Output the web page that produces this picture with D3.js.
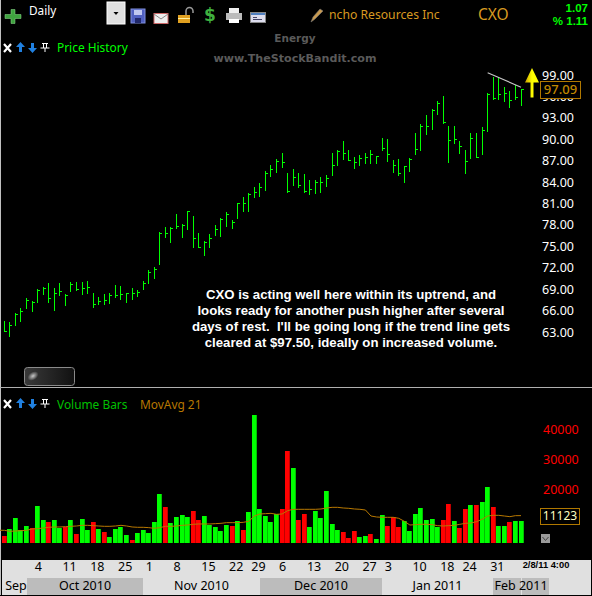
<!DOCTYPE html>
<html><head><meta charset="utf-8">
<script src="https://cdn.jsdelivr.net/npm/d3@7/dist/d3.min.js"></script>
<style>
html,body{margin:0;padding:0;background:#000;overflow:hidden}
svg{display:block}
text{font-family:"Noto Sans","DejaVu Sans",sans-serif}
</style></head><body><div id="c"></div>
<script>
const highs=[64.54,64.36,65.62,66.32,67.76,67.30,69.02,69.26,69.86,69.12,69.86,68.32,69.96,70.00,70.00,70.14,68.46,67.90,68.32,68.46,69.58,69.44,68.46,69.16,68.88,70.14,71.68,72.10,77.01,77.71,77.71,79.53,78.09,79.95,79.25,76.87,75.75,76.73,77.99,78.97,79.81,78.69,81.07,81.92,82.48,83.32,83.88,85.56,86.40,87.24,88.08,85.28,85.84,85.28,85.14,84.30,84.25,84.72,85.00,88.12,88.49,89.75,88.49,87.51,87.79,88.03,88.49,87.65,90.17,90.03,87.09,87.23,86.25,87.37,90.87,92.14,93.40,94.24,95.36,96.06,91.86,91.86,89.75,88.49,90.87,90.87,91.72,96.48,98.72,98.58,97.32,96.76,97.60,97.04];
const lows=[63.00,62.30,63.84,64.40,66.22,65.80,67.06,68.18,67.06,65.94,68.04,66.64,68.60,68.74,68.18,68.32,66.36,66.78,66.78,66.92,67.76,67.48,67.06,67.48,67.90,68.88,69.72,70.42,72.38,76.17,75.47,77.43,76.17,77.29,74.77,74.77,73.65,74.77,76.45,76.31,77.71,77.43,78.83,79.81,79.81,81.78,81.92,82.76,84.72,85.28,85.98,82.48,83.46,83.18,82.48,82.20,82.34,82.48,83.32,84.85,86.25,87.09,86.95,85.83,86.25,86.53,86.53,86.53,88.35,86.81,85.27,84.85,83.87,85.41,87.79,88.35,90.59,91.30,93.40,92.14,86.67,89.33,87.93,85.13,87.23,87.37,87.79,91.02,95.50,95.50,95.22,94.38,95.50,94.66];
const closes=[63.09,64.03,65.52,65.99,67.48,67.16,68.88,69.12,67.76,68.42,68.70,68.18,69.72,69.02,69.16,69.30,66.88,67.34,67.48,68.18,68.18,68.32,68.42,68.42,68.60,69.86,71.40,71.82,76.82,76.87,77.61,77.85,77.95,79.91,76.13,74.91,75.57,76.13,77.39,78.83,79.49,78.37,81.03,81.03,82.34,82.57,83.27,85.23,85.79,86.91,86.77,82.71,84.67,83.55,82.71,82.99,84.02,84.02,84.53,86.35,88.40,88.07,87.09,86.81,87.37,87.51,87.93,87.61,88.73,87.93,86.35,85.27,86.21,87.28,88.63,91.86,91.90,94.10,95.08,92.42,89.89,90.03,89.05,86.95,90.17,87.51,91.30,96.34,95.78,96.34,96.43,95.50,95.92,97.09];
const volumes=[4340,6670,10330,6330,7670,7000,14330,9670,9000,9670,7000,7330,9670,5000,10000,6330,9000,6670,5670,4000,6670,7330,4670,3000,5330,6330,5330,9000,18330,14000,8670,10670,11330,10670,12670,9670,11000,8000,7330,6000,8000,7670,9330,6330,12330,44670,13330,11000,9000,11670,13330,32670,27000,9670,11670,7330,12670,10330,19330,8330,6330,5670,3670,6000,4000,4330,5000,3330,11330,7670,10560,7330,9330,6000,11670,13670,9670,10000,7330,9670,15000,9330,7000,13330,14670,14670,15670,20670,14000,7670,7670,9000,9330,9330];
const downBars=[0,5,8,11,13,16,18,23,29,34,35,41,43,50,51,53,54,61,62,63,66,69,70,71,79,80,82,83,85,88,91];
const movAvg=[6230,5890,6000,6110,6230,6670,6780,7000,7230,7340,7340,7450,7560,7670,7890,7890,7780,7670,7560,7560,7670,7890,7670,7340,7230,7230,7120,6890,7120,7560,7560,7670,7890,8000,8230,8340,8340,8340,8450,8560,8780,8780,8780,8890,9230,11000,11670,11780,11890,11560,11670,12780,13230,13230,13230,13230,13230,13340,13670,13890,13890,13670,13560,13340,13230,13000,11000,10670,10560,10560,10560,10230,9230,8000,8110,8230,8230,8110,7780,7670,7780,7890,8230,8560,8670,9110,9890,11000,11220,11220,11000,10780,11110,11123];
const priceTicks=[99,96,93,90,87,84,81,78,75,72,69,66,63];
const volumeTicks=[20000,30000,40000];
const dayTickIndex=[6,11,16,21,26,31,36,41,45,50,55,60,65,69,74,79,83,88];
const dayTickLabels=["4","11","18","25","1","8","15","22","29","6","13","20","27","3","10","18","24","31"];
const monthNames=["Sep","Oct 2010","Nov 2010","Dec 2010","Jan 2011","Feb 2011"];
const monthStartIndex=[-1,4,25,46,68,88,98];
const noteLines=["CXO is acting well here within its uptrend, and","looks ready for another push higher after several","days of rest.  I'll be going long if the trend line gets","cleared at $97.50, ideally on increased volume."];
const trendStart={i:87,p:99.3},trendEnd={i:93,p:97.3};
const lastClose=97.09,lastVolume=11123;

const W=592,H=596;
const svg=d3.select("#c").append("svg").attr("width",W).attr("height",H).style("background","#000");
const x=d3.scaleLinear().domain([0,93]).range([4.33,521]);
const y=d3.scaleLinear().domain([63,99]).range([332,75]);
const yV=d3.scaleLinear().domain([0,40000]).range([549,429]);
const BASE=543;
const px=i=>Math.floor(x(i));
const C={g:"#00ff00",r:"#ff0000",gold:"#b87800"};

// frame
svg.append("rect").attr("x",0).attr("y",0).attr("width",1).attr("height",H).attr("fill","#c0c0c0");
svg.append("rect").attr("x",0).attr("y",387).attr("width",W).attr("height",1).attr("fill","#b0b0b0");

// watermark and titles
const txt=(t,xx,yy,fs,fill,opt={})=>svg.append("text").attr("x",xx).attr("y",yy).attr("font-size",fs).attr("fill",fill)
  .attr("text-anchor",opt.a||"start").attr("font-weight",opt.w||400).style("font-family",opt.f||null).attr("dominant-baseline","middle").text(t);
txt("Energy",295,39,10.5,"#5a5a5a",{a:"middle",w:700,f:"'DejaVu Sans'"});
txt("www.TheStockBandit.com",295,59,11.1,"#5a5a5a",{a:"middle",w:700,f:"'DejaVu Sans'"});
txt("Daily",29,12,11.8,"#fff");
txt("ncho Resources Inc",329,15.5,12.2,"#d89a20");
txt("CXO",478,15.5,15.5,"#d89a20");
txt("1.07",588,9,11.5,C.g,{a:"end",w:700,f:"'Liberation Sans'"});
txt("% 1.11",588,22,11.5,C.g,{a:"end",w:700,f:"'Liberation Sans'"});
txt("Price History",57,48.5,11.9,C.g);
txt("Volume Bars",57,406,11.9,"#00c000");
txt("MovAvg 21",140,406,11.9,C.gold);

// toolbar icons
const I=svg.append("g");
I.append("path").attr("d","M5 14.5h6v-5h4v5h6v4h-6v5h-4v-5h-6z").attr("fill","#3fa33f").attr("stroke","#8fdc8f").attr("stroke-width",.5);
I.append("rect").attr("x",107).attr("y",2).attr("width",18).attr("height",22).attr("fill","#e0e0e0").attr("stroke","#fff");
I.append("path").attr("d","M113.5 12h5l-2.5 3z").attr("fill","#000");
I.append("rect").attr("x",131).attr("y",9).attr("width",14).attr("height",14).attr("fill","#5060c0").attr("stroke","#8090e0");
I.append("rect").attr("x",134).attr("y",10).attr("width",8).attr("height",5).attr("fill","#c0c8f0");
I.append("rect").attr("x",135).attr("y",18).attr("width",6).attr("height",5).attr("fill","#20286a");
I.append("rect").attr("x",154).attr("y",13.5).attr("width",14).attr("height",10).attr("fill","#eee").attr("stroke","#c66");
I.append("path").attr("d","M154 14l7 5 7-5").attr("fill","none").attr("stroke","#888");
I.append("rect").attr("x",178).attr("y",15).attr("width",12).attr("height",8).attr("fill","#e0a020");
I.append("rect").attr("x",178).attr("y",18).attr("width",12).attr("height",1).attr("fill","#fff0a0");
I.append("path").attr("d","M186 15v-4a3.5 3.5 0 0 1 7 0v2").attr("fill","none").attr("stroke","#999").attr("stroke-width",1.5);
svg.append("text").attr("x",210).attr("y",15.5).attr("text-anchor","middle").attr("dominant-baseline","middle").attr("font-size",17).attr("font-weight",700).attr("fill","#3fb03f").style("font-family","'DejaVu Sans'").text("$");
I.append("rect").attr("x",226).attr("y",13).attr("width",16).attr("height",7).attr("fill","#bbb");
I.append("rect").attr("x",229).attr("y",8).attr("width",10).attr("height",5).attr("fill","#eee");
I.append("rect").attr("x",229).attr("y",19).attr("width",10).attr("height",4).attr("fill","#fff");
I.append("rect").attr("x",250.5).attr("y",12.5).attr("width",15).attr("height",10).attr("fill","#dde").attr("stroke","#888");
I.append("rect").attr("x",251).attr("y",13).attr("width",14).attr("height",2).attr("fill","#5080c0");
I.append("rect").attr("x",253).attr("y",17).attr("width",4).attr("height",1).attr("fill","#446");
I.append("rect").attr("x",253).attr("y",19).attr("width",9).attr("height",1).attr("fill","#446");
// pencil
I.append("path").attr("d","M311 22l2-5 7-8 3 2-8 8z").attr("fill","#c89a50").attr("stroke","#777").attr("stroke-width",.6);

// panel controls
function controls(yy){
  const g=svg.append("g").attr("transform",`translate(0,${yy})`);
  g.append("path").attr("d","M4 -4l7 8M11 -4l-7 8").attr("stroke","#fff").attr("stroke-width",2.2).attr("fill","none");
  g.append("path").attr("d","M20.500 -6l4.500 5h-3v5h-3v-5h-3z").attr("fill","#2080e0");
  g.append("path").attr("d","M31 -5h3v5h3l-4.500 5-4.500-5h3z").attr("fill","#2080e0");
  g.append("path").attr("d","M42 -4.500h6M43.500 -4.500v4.500M46.500 -4.500v4.500M40.500 0h9M45 0v4").attr("stroke","#fff").attr("stroke-width",1).attr("fill","none");
}
controls(48);controls(404);

// slider button
const defs=svg.append("defs");
const lg=defs.append("linearGradient").attr("id","btn").attr("x1",0).attr("y1",0).attr("x2",1).attr("y2",0);
lg.append("stop").attr("offset","0").attr("stop-color","#3a3a3a");lg.append("stop").attr("offset","1").attr("stop-color","#111");
const rg=defs.append("radialGradient").attr("id","glow");
rg.append("stop").attr("offset","0").attr("stop-color","#c8c8c8");rg.append("stop").attr("offset","1").attr("stop-color","#c8c8c8").attr("stop-opacity",0);
svg.append("rect").attr("x",24.5).attr("y",367.5).attr("width",50).attr("height",18).attr("rx",3).attr("fill","url(#btn)").attr("stroke","#8a8a8a");
svg.append("ellipse").attr("cx",33).attr("cy",376).attr("rx",6).attr("ry",4).attr("fill","url(#glow)").attr("transform","rotate(-35 33 376)");

// price bars (high-low-close)
const pg=svg.append("g").attr("shape-rendering","crispEdges");
const idx=d3.range(highs.length);
pg.selectAll("rect.s").data(idx).join("rect").attr("x",i=>px(i)).attr("width",1)
  .attr("y",i=>Math.round(y(highs[i]))).attr("height",i=>Math.round(y(lows[i]))-Math.round(y(highs[i]))).attr("fill",C.g);
pg.selectAll("rect.c").data(idx).join("rect").attr("class","c").attr("x",i=>px(i)+1).attr("width",2)
  .attr("y",i=>Math.round(y(closes[i]))).attr("height",1).attr("fill",C.g);

// trend line
svg.append("line").attr("x1",x(trendStart.i)).attr("y1",y(trendStart.p)).attr("x2",x(trendEnd.i)).attr("y2",y(trendEnd.p)).attr("stroke","#c8c8c8").attr("stroke-width",1.1);

// note
const note=svg.append("text").attr("text-anchor","middle").attr("font-size",13.2).attr("font-weight",700).attr("fill","#fff").style("font-family","'Liberation Sans'");
noteLines.forEach((l,k)=>note.append("tspan").attr("x",351).attr("y",299+k*16).attr("xml:space","preserve").style("white-space","pre").text(l));

// price axis
const pAxis=svg.append("g").attr("transform","translate(542,0)").call(d3.axisRight(y).tickValues(priceTicks).tickSize(0).tickPadding(0).tickFormat(d3.format(".2f")));
pAxis.select(".domain").remove();
pAxis.selectAll("text").attr("fill","#fff").attr("font-size",12.5).style("font-family","'Noto Sans'");

// yellow arrow
const ag=defs.append("linearGradient").attr("id","arr").attr("x1",0).attr("y1",0).attr("x2",1).attr("y2",0);
ag.append("stop").attr("offset","0").attr("stop-color","#c8a000");ag.append("stop").attr("offset",".5").attr("stop-color","#ffff00");
svg.append("path").attr("d","M532 68l7 14.500h-5.500v15h-3v-15h-5.500z").attr("fill","url(#arr)");

// last price box
svg.append("rect").attr("x",540.5).attr("y",81.5).attr("width",40).attr("height",17).attr("fill","#000").attr("stroke","#b07800");
txt(d3.format(".2f")(lastClose),560.5,90,13,"#c08800",{a:"middle",w:500});

// volume bars
const vg=svg.append("g").attr("shape-rendering","crispEdges");
const isDown=i=>downBars.includes(i);
vg.selectAll("rect.b").data(idx).join("rect").attr("class","b").attr("x",i=>px(i)-2).attr("width",4)
  .attr("y",i=>Math.round(yV(volumes[i]))).attr("height",i=>BASE-Math.round(yV(volumes[i]))).attr("fill",i=>isDown(i)?C.r:C.g);
vg.selectAll("rect.e").data(idx).join("rect").attr("class","e").attr("x",i=>px(i)+2).attr("width",1)
  .attr("y",i=>Math.round(yV(volumes[i]))).attr("height",i=>BASE-Math.round(yV(volumes[i]))).attr("fill",i=>isDown(i)?"#c00000":"#00c000");
// moving average
svg.append("path").datum(movAvg).attr("fill","none").attr("stroke",C.gold).attr("stroke-width",1)
  .attr("d",d3.line().x((d,i)=>x(i)).y(d=>yV(d)));
svg.append("line").attr("x1",0).attr("x2",x(0)).attr("y1",yV(movAvg[0])).attr("y2",yV(movAvg[0])).attr("stroke",C.gold);

// volume axis
const vAxis=svg.append("g").attr("transform","translate(543,0)").call(d3.axisRight(yV).tickValues(volumeTicks).tickSize(0).tickPadding(0).tickFormat(d3.format("d")));
vAxis.select(".domain").remove();
vAxis.selectAll("text").attr("fill",C.r).attr("font-size",12.5).style("font-family","'Noto Sans'");
svg.append("rect").attr("x",540.5).attr("y",508.5).attr("width",39).attr("height",16).attr("fill","#000").attr("stroke","#b07800");
txt(String(lastVolume),560,516.5,12,"#ffffc0",{a:"middle"});
svg.append("rect").attr("x",541).attr("y",534).attr("width",9).attr("height",9).attr("fill","#9a9a9a");
svg.append("path").attr("d","M542.500 537l3 3.500 3-3.500").attr("fill","none").attr("stroke","#444");

// time axis panel
svg.append("rect").attr("x",2).attr("y",560).attr("width",589).attr("height",35).attr("fill","#e0e0e0");
const bands=monthNames.map((m,k)=>({m,k,a:k?Math.round(x(monthStartIndex[k])):2,b:Math.round(x(monthStartIndex[k+1]))}));
svg.selectAll("rect.m").data(bands.filter(d=>d.k%2===1)).join("rect").attr("class","m").attr("x",d=>d.a).attr("width",d=>d.b-d.a).attr("y",578).attr("height",17).attr("fill","#bcbcbc");
svg.append("rect").attr("x",Math.round(x(93))).attr("y",578).attr("width",1).attr("height",17).attr("fill","#e0e0e0");
svg.selectAll("text.m").data(bands).join("text").attr("class","m").attr("x",d=>d.k?(d.a+d.b)/2:16).attr("y",587).attr("text-anchor","middle").attr("dominant-baseline","middle").attr("font-size",12.5).attr("fill","#000").text(d=>d.m);
const tAxis=svg.append("g").attr("transform","translate(0,568)").call(d3.axisBottom(x).tickValues(dayTickIndex).tickSize(0).tickPadding(0).tickFormat((d,i)=>dayTickLabels[i]));
tAxis.select(".domain").remove();
tAxis.selectAll("text").attr("fill","#000").attr("font-size",12.5).attr("text-anchor","start").attr("dx",-3.5).attr("dy",".2em").style("font-family","'Noto Sans'");
txt("2/8/11 4:00",546,565.5,9.6,"#000",{a:"middle",w:700,f:"'Liberation Sans'"}).attr("textLength",46.7).attr("lengthAdjust","spacingAndGlyphs");
svg.append("rect").attr("x",0).attr("y",595).attr("width",W).attr("height",1).attr("fill","#000");
</script></body></html>
